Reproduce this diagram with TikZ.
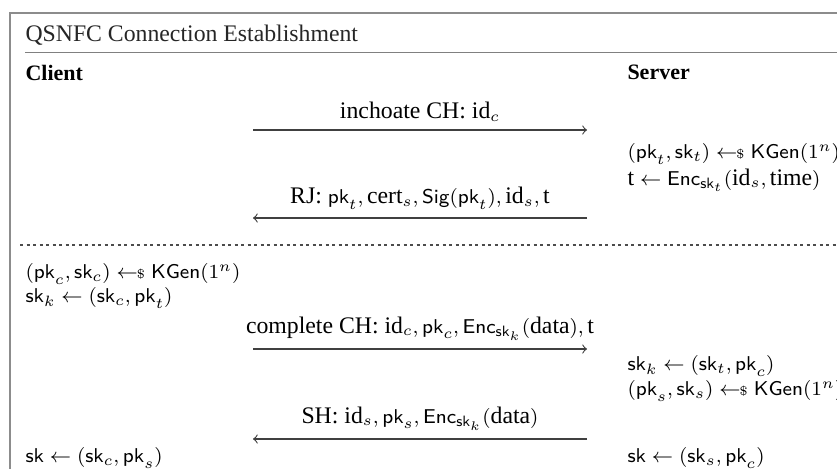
\documentclass[tikz,border=0pt]{standalone}
\usepackage{amsmath}
\usepackage{fontspec}
\setmainfont{Liberation Serif}
\usetikzlibrary{positioning}
\DeclareMathSizes{9.5}{8}{6}{5}

\newcommand{\pkey}{\mathsf{pk}}
\newcommand{\skey}{\mathsf{sk}}
\newcommand{\kgen}{\mathsf{KGen}}
\newcommand{\encf}{\mathsf{Enc}}
\newcommand{\sigf}{\mathsf{Sig}}
\newcommand{\fulltext}[1]{\text{\fontsize{9.5}{11}\selectfont #1}}
\newcommand{\idf}{\fulltext{id}}
\newcommand{\tval}{\fulltext{t}}
\newcommand{\samplearrow}{\mathrel{\leftarrow\!\!{\scriptscriptstyle\$}}}

\tikzset{
  party/.style={anchor=west,inner sep=0pt,font=\fontsize{8.8}{10}\selectfont\bfseries},
  stepline/.style={anchor=west,inner sep=0pt,font=\fontsize{9.5}{11}\selectfont},
  msg/.style={->,>=to,draw=black!75,line width=0.45pt},
  msglabel/.style={above,font=\fontsize{9.5}{11}\selectfont}
}

\begin{document}
\begin{tikzpicture}[x=0.4pt,y=-0.4pt]
  \useasboundingbox (0,0) rectangle (837,468);
  \clip (0,0) rectangle (837,468);
  % frame and title
  \draw[black!45,line width=0.8pt] (10,480) -- (10,13) -- (850,13);
  \node[stepline,text=black!85] (title) at (25,35) {QSNFC Connection Establishment};
  \draw[black!50,line width=0.6pt] (25,52.5) -- (850,52.5);
  \node[party] (client) at (25,73) {Client};
  \node[party] (server) at (627,72) {Server};
  % first round
  \coordinate (cl1) at (253,130); \coordinate (sr1) at (587,130);
  \draw[msg] (cl1) -- node[msglabel] (m1) {inchoate CH: $\idf_c$} (sr1);
  \node[stepline] (sgen) at (627,154) {$(\pkey_t,\skey_t)\samplearrow\kgen(1^n)$};
  \node[stepline] (stok) at (627,180) {$\tval\leftarrow\encf_{\skey_t}(\idf_s,\fulltext{time})$};
  \coordinate (sr2) at (587,218); \coordinate (cl2) at (253,218);
  \draw[msg] (sr2) -- node[msglabel] (m2) {RJ: $\pkey_t,\fulltext{cert}_s,\sigf(\pkey_t),\idf_s,\tval$} (cl2);
  \draw[black!70,line width=0.5pt,dash pattern=on 1.3pt off 1.3pt] (20,245) -- (850,245);
  % second round
  \node[stepline] (cgen) at (25,274) {$(\pkey_c,\skey_c)\samplearrow\kgen(1^n)$};
  \node[stepline] (ckem) at (25,298) {$\skey_k\leftarrow(\skey_c,\pkey_t)$};
  \coordinate (cl3) at (253,349); \coordinate (sr3) at (587,349);
  \draw[msg] (cl3) -- node[msglabel] (m3) {complete CH: $\idf_c,\pkey_c,\encf_{\skey_k}(\fulltext{data}),\tval$} (sr3);
  \node[stepline] (skem) at (627,366) {$\skey_k\leftarrow(\skey_t,\pkey_c)$};
  \node[stepline] (sgen2) at (627,391) {$(\pkey_s,\skey_s)\samplearrow\kgen(1^n)$};
  \coordinate (sr4) at (587,439); \coordinate (cl4) at (253,439);
  \draw[msg] (sr4) -- node[msglabel] (m4) {SH: $\idf_s,\pkey_s,\encf_{\skey_k}(\fulltext{data})$} (cl4);
  \node[stepline] (ckey) at (25,458) {$\skey\leftarrow(\skey_c,\pkey_s)$};
  \node[stepline] (skey) at (627,458) {$\skey\leftarrow(\skey_s,\pkey_c)$};
\end{tikzpicture}
\end{document}
